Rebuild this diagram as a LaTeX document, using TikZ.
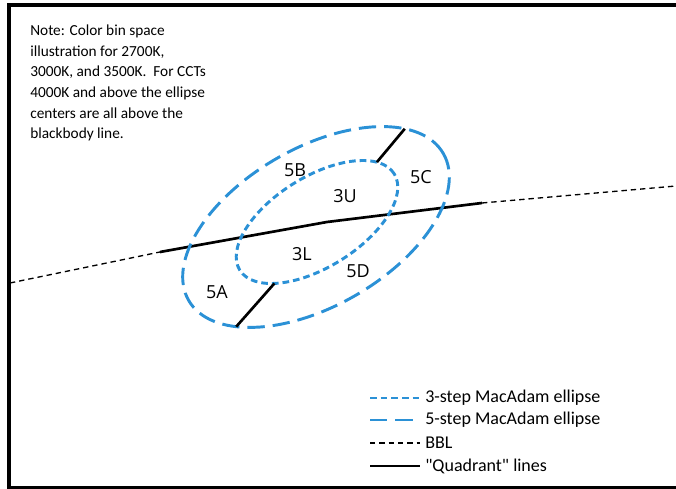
\documentclass[tikz,border=0pt]{standalone}
\usepackage{fontspec}
\setmainfont{Carlito}
\newfontfamily\binfont{Open Sans}
\newfontfamily\legfont{Carlito}
\usetikzlibrary{positioning,calc}
\definecolor{BinBlue}{HTML}{2B91D6}

\begin{document}
\begin{tikzpicture}[
    x=0.75pt,y=0.75pt,
    every node/.style={font=\fontsize{11.5}{15.4}\selectfont,inner sep=0pt},
    threestep/.style={BinBlue,line width=2.2pt,dash pattern=on 5pt off 3pt},
    fivestep/.style={BinBlue,line width=2.2pt,dash pattern=on 13pt off 6pt},
    bbl/.style={black,line width=1pt,dash pattern=on 4pt off 3pt},
    quad/.style={black,line width=2pt},
    bin/.style={font=\binfont\fontsize{13.5}{14}\selectfont},
    legtext/.style={anchor=west,font=\legfont\fontsize{13.5}{15}\selectfont}
  ]
    \useasboundingbox (0,0) rectangle (676,489);
    % frame, open on the right
    \begin{scope}
      \clip (0,0) rectangle (676,489);
      \draw[line width=3pt] (9,1) rectangle (700,483.5);
    \end{scope}

    \node[anchor=north west,align=left] (note) at (30,464) {Note: Color bin space\\illustration for 2700K,\\3000K, and 3500K.\ \ For CCTs\\4000K and above the ellipse\\centers are all above the\\blackbody line.};

    % blackbody line
    \coordinate (bblW) at (10,206);
    \coordinate (bblA) at (160,237);
    \coordinate (bblM) at (327,267);
    \coordinate (bblB) at (482,286);
    \coordinate (bblE) at (676,303);
    \draw[bbl] (bblW) -- (bblA);
    \draw[bbl] (bblB) -- (bblE);
    \draw[quad] (bblA) -- (bblM) -- (bblB);

    % 5-step ellipse
    \begin{scope}[shift={(316,262)},rotate=30]
      \draw[fivestep] (0,0) ellipse [x radius=147,y radius=79];
      \coordinate (outA) at (216:147 and 79);
      \coordinate (outC) at (31:147 and 79);
    \end{scope}
    % 3-step ellipse
    \begin{scope}[shift={(317,267)},rotate=32]
      \draw[threestep] (0,0) ellipse [x radius=91,y radius=45];
      \coordinate (inA) at (221:91 and 45);
      \coordinate (inC) at (25:91 and 45);
    \end{scope}
    \draw[quad] (inA) -- (outA);
    \draw[quad] (inC) -- (outC);

    % bin labels
    \node[bin] (b5B) at (295,319) {5B};
    \node[bin] (b3U) at (345,293) {3U};
    \node[bin] (b5C) at (421,312) {5C};
    \node[bin] (b3L) at (302,235) {3L};
    \node[bin] (b5D) at (358,218) {5D};
    \node[bin] (b5A) at (217,197) {5A};

    % legend
    \coordinate (k1) at (370,91);
    \coordinate (k2) at (370,69);
    \coordinate (k3) at (370,46);
    \coordinate (k4) at (370,23);
    \node[legtext] (t1) at (425,91) {3-step MacAdam ellipse};
    \node[legtext] (t2) at (425,69) {5-step MacAdam ellipse};
    \node[legtext] (t3) at (425,46) {BBL};
    \node[legtext] (t4) at (425,23) {"Quadrant" lines};
    \draw[threestep,line width=1.8pt] (k1) -- ++(50,0);
    \draw[fivestep,line width=1.8pt] (k2) -- ++(50,0);
    \draw[bbl] (k3) -- ++(50,0);
    \draw[quad] (k4) -- ++(50,0);
  \end{tikzpicture}
\end{document}
